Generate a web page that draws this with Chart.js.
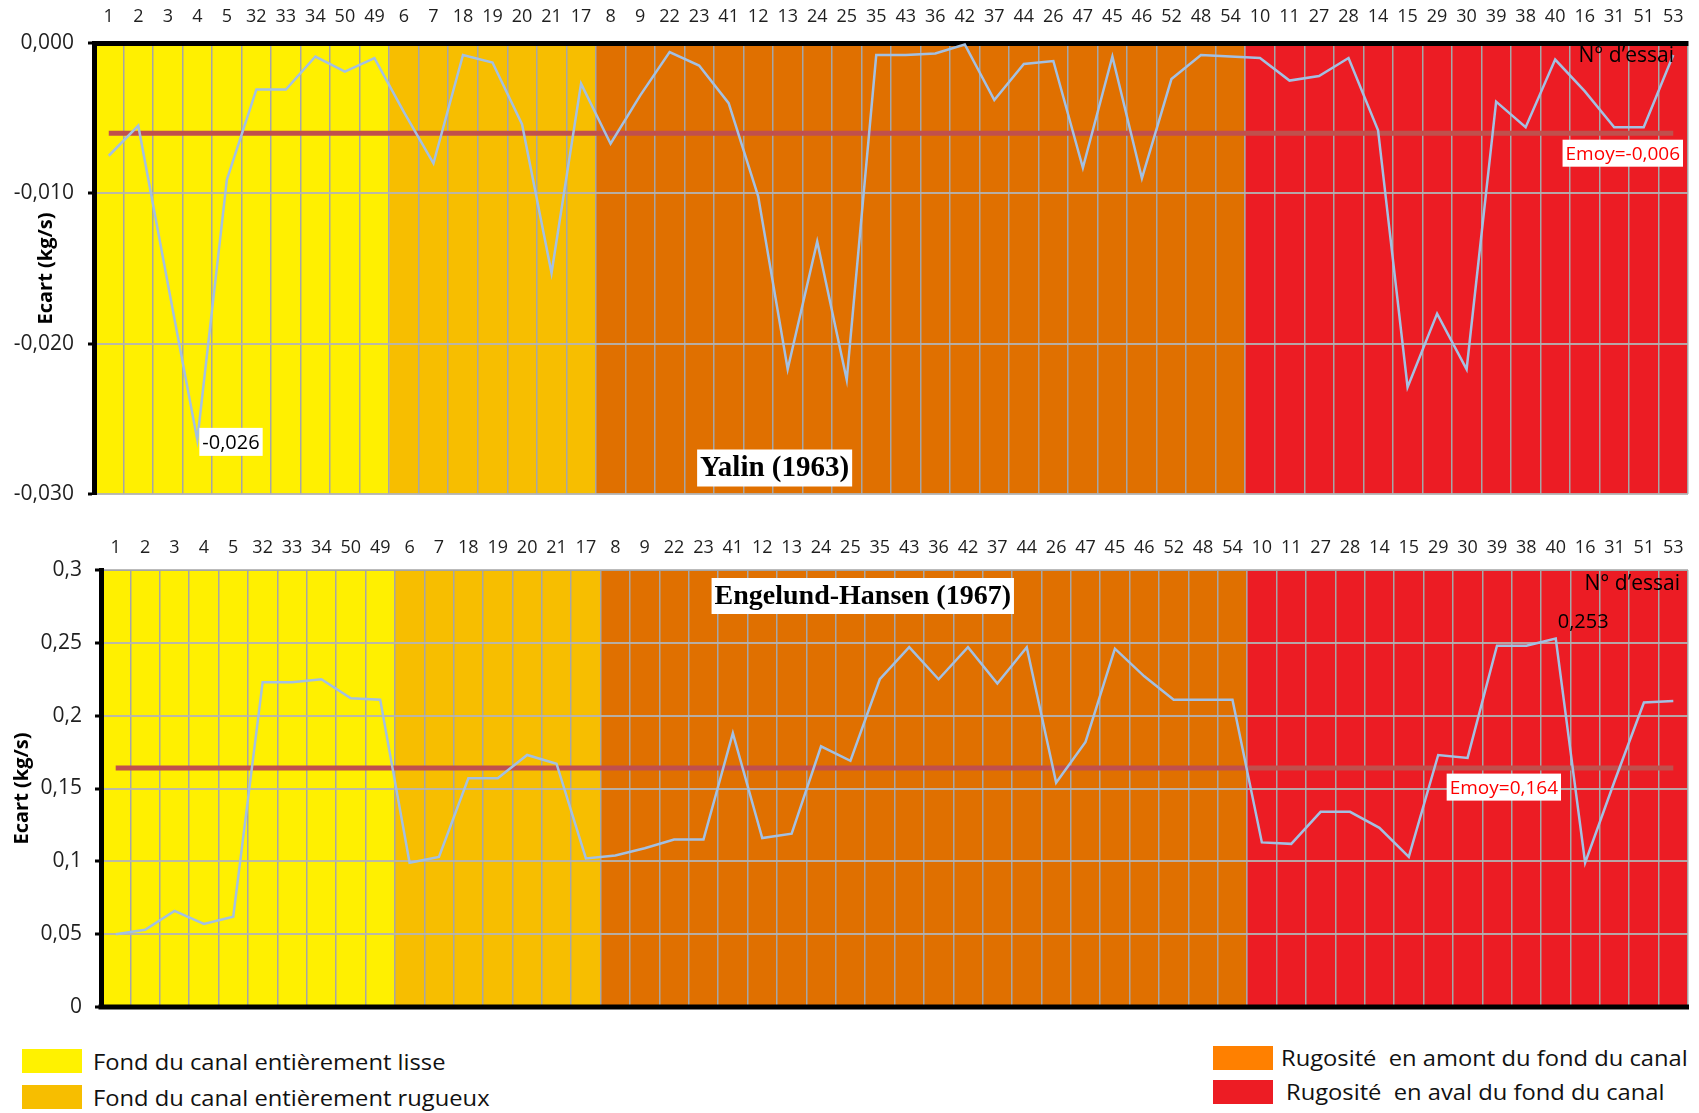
<!DOCTYPE html>
<html>
<head>
<meta charset="utf-8">
<script src="https://cdn.jsdelivr.net/npm/chart.js@4.4.1/dist/chart.umd.min.js"></script>
<style>
  body { margin: 0; background: #fff; font-family: 'Open Sans', sans-serif; }
  #page { position: relative; width: 1699px; height: 1113px; overflow: hidden; }
  canvas { position: absolute; left: 0; }
  .swatch { position: absolute; width: 60px; height: 24px; }
  .legend-text { position: absolute; font-size: 21px; color: #111; white-space: pre; line-height: 24px;
                 transform: scaleX(1.13); transform-origin: left center; }
</style>
</head>
<body>
<div id="page">
  <canvas id="yalinChart" width="1699" height="510" style="top:0"></canvas>
  <canvas id="engelundChart" width="1699" height="500" style="top:520px"></canvas>

  <div class="swatch" style="left:22px;top:1049px;background:#FFF200"></div>
  <div class="legend-text" style="left:93px;top:1050px">Fond du canal entièrement lisse</div>
  <div class="swatch" style="left:22px;top:1085px;background:#F7BE00"></div>
  <div class="legend-text" style="left:93px;top:1086px">Fond du canal entièrement rugueux</div>
  <div class="swatch" style="left:1213px;top:1046px;background:#FF8000"></div>
  <div class="legend-text" style="left:1281px;top:1046px">Rugosité  en amont du fond du canal</div>
  <div class="swatch" style="left:1213px;top:1080px;background:#ED1C24"></div>
  <div class="legend-text" style="left:1286px;top:1080px">Rugosité  en aval du fond du canal</div>
</div>

<script>
// trial numbers, grouped by bed roughness configuration
const smoothTrials = ['1', '2', '3', '4', '5', '32', '33', '34', '50', '49'];
const roughTrials = ['6', '7', '18', '19', '20', '21', '17'];
const upstreamTrials = ['8', '9', '22', '23', '41', '12', '13', '24', '25', '35', '43', '36', '42', '37', '44', '26', '47', '45', '46', '52', '48', '54'];
const downstreamTrials = ['10', '11', '27', '28', '14', '15', '29', '30', '39', '38', '40', '16', '31', '51', '53'];
const trials = smoothTrials.concat(roughTrials, upstreamTrials, downstreamTrials);

// Yalin (1963) - ecart (kg/s)
const yalinSmooth = [-0.0075, -0.0055, -0.0160, -0.0264, -0.0091, -0.0031, -0.0031, -0.0009, -0.0019, -0.0010];
const yalinRough = [-0.0046, -0.0080, -0.0008, -0.0013, -0.0054, -0.0153, -0.0027];
const yalinUpstream = [-0.0067, -0.0035, -0.0006, -0.0015, -0.0040, -0.0102, -0.0217, -0.0132, -0.0224, -0.0008, -0.0008,
                       -0.0007, -0.0001, -0.0038, -0.0014, -0.0012, -0.0083, -0.0009, -0.0090, -0.0024, -0.0008, -0.0009];
const yalinDownstream = [-0.0010, -0.0025, -0.0022, -0.0010, -0.0058, -0.0229, -0.0180, -0.0217, -0.0039, -0.0056,
                         -0.0011, -0.0032, -0.0056, -0.0056, -0.0008];
const yalinMean = -0.006;

// Engelund-Hansen (1967) - ecart (kg/s)
const engelundSmooth = [0.050, 0.053, 0.066, 0.057, 0.062, 0.223, 0.223, 0.225, 0.212, 0.211];
const engelundRough = [0.099, 0.103, 0.157, 0.157, 0.173, 0.167, 0.102];
const engelundUpstream = [0.104, 0.109, 0.115, 0.115, 0.188, 0.116, 0.119, 0.179, 0.169, 0.225, 0.247,
                          0.225, 0.247, 0.222, 0.247, 0.154, 0.182, 0.246, 0.227, 0.211, 0.211, 0.211];
const engelundDownstream = [0.113, 0.112, 0.134, 0.134, 0.123, 0.103, 0.173, 0.171, 0.248, 0.248,
                            0.253, 0.099, 0.155, 0.209, 0.210];
const engelundMean = 0.164;

const yalinValues = yalinSmooth.concat(yalinRough, yalinUpstream, yalinDownstream);
const engelundValues = engelundSmooth.concat(engelundRough, engelundUpstream, engelundDownstream);

const groupSizes = [smoothTrials.length, roughTrials.length, upstreamTrials.length, downstreamTrials.length];
const bandColors = ['#FFF000', '#F7BE00', '#E07000', '#EC1C24'];

Chart.defaults.font.family = "'Open Sans', sans-serif";
Chart.defaults.color = '#1f1f1f';

// coloured background bands, one per group of trials
const bandPlugin = {
    id: 'bands',
    beforeDraw(chart) {
        const ctx = chart.ctx;
        const area = chart.chartArea;
        const x = chart.scales.x;
        const half = x.width / trials.length / 2;
        let start = 0;
        ctx.save();
        groupSizes.forEach((n, i) => {
            const left = x.getPixelForValue(start) - half;
            const right = x.getPixelForValue(start + n - 1) + half;
            ctx.fillStyle = bandColors[i];
            ctx.fillRect(left, area.top, right - left, area.height);
            start += n;
        });
        ctx.restore();
    }
};

function drawBox(ctx, text, x, y, font, color, align) {
    ctx.font = font;
    const w = ctx.measureText(text).width;
    const h = parseInt(font.match(/(\d+)px/)[1]) + 8;
    let left = x;
    if (align === 'center') left = x - w / 2 - 3;
    if (align === 'right') left = x - w - 6;
    ctx.fillStyle = '#fff';
    ctx.fillRect(left, y - h / 2, w + 6, h);
    ctx.fillStyle = color;
    ctx.textAlign = 'left';
    ctx.textBaseline = 'middle';
    ctx.fillText(text, left + 3, y + 1);
}

function drawText(ctx, text, x, y, font, color, align) {
    ctx.font = font;
    ctx.fillStyle = color;
    ctx.textAlign = align;
    ctx.textBaseline = 'middle';
    ctx.fillText(text, x, y);
}

function formatYalin(v) {
    if (Math.abs(v) < 1e-9) return '0,000';
    return v.toFixed(3).replace('.', ',');
}

function formatEngelund(v) {
    return String(+v.toFixed(2)).replace('.', ',');
}

function baseDatasets(values, mean) {
    return [{
        data: values,
        borderColor: '#A3C0E2',
        borderWidth: 2.5,
        pointRadius: 0,
        tension: 0
    }, {
        data: [{x: trials[0], y: mean}, {x: trials[trials.length - 1], y: mean}],
        borderColor: '#C0504D',
        borderWidth: 5,
        pointRadius: 0
    }];
}

function xAxis(height, padding) {
    return {
        type: 'category',
        position: 'top',
        offset: true,
        grid: { offset: true, color: '#A6A6A6', lineWidth: 1.5, drawTicks: false },
        ticks: { autoSkip: false, maxRotation: 0, minRotation: 0, padding: padding, font: { size: 18 } },
        afterFit(scale) { scale.height = height; }
    };
}

function yAxis(width, titlePad) {
    return {
        grid: { color: 'rgba(180, 180, 180, 0.9)', lineWidth: 2, tickLength: 6, tickColor: '#000', tickWidth: 3 },
        border: { color: '#000', width: 5 },
        title: {
            display: true, text: 'Ecart (kg/s)', color: '#000',
            font: { size: 20, weight: 'bold' }, padding: { top: titlePad, bottom: 0 }
        },
        afterFit(scale) {
            // fixed axis width, and no extra room asked for the end labels
            scale.width = width;
            scale.paddingTop = 0;
            scale.paddingBottom = 0;
        }
    };
}

// Yalin (1963)
const yalinNotes = {
    id: 'yalinNotes',
    afterDraw(chart) {
        const ctx = chart.ctx;
        const area = chart.chartArea;
        const y = chart.scales.y;
        const low = chart.getDatasetMeta(0).data[3];
        ctx.save();
        drawBox(ctx, '-0,026', low.x + 2, low.y + 2, '20px "Open Sans"', '#000', 'left');
        drawBox(ctx, 'Yalin (1963)', area.left + area.width * 0.427, area.bottom - 26,
            'bold 29px "Liberation Serif"', '#000', 'center');
        const my = y.getPixelForValue(yalinMean);
        drawBox(ctx, 'Emoy=-0,006', area.right - 5, my + 20, '19px "Open Sans"', '#FF0000', 'right');
        drawText(ctx, 'N° d’essai', area.right - 14, area.top + 13, '21px "Open Sans"', '#000', 'right');
        ctx.restore();
    }
};

const yalinX = xAxis(43, 15);
yalinX.border = { color: '#000', width: 5 };
const yalinY = yAxis(94, 34);
yalinY.min = -0.03;
yalinY.max = 0;
yalinY.ticks = { stepSize: 0.01, callback: formatYalin, padding: 14, font: { size: 21 } };

new Chart(document.getElementById('yalinChart'), {
    type: 'line',
    data: { labels: trials, datasets: baseDatasets(yalinValues, yalinMean) },
    options: {
        responsive: false,
        animation: false,
        layout: { padding: { left: 0, right: 11, top: 0, bottom: 16 } },
        plugins: { legend: { display: false }, tooltip: { enabled: false } },
        scales: { x: yalinX, y: yalinY }
    },
    plugins: [bandPlugin, yalinNotes]
});

// Engelund-Hansen (1967)
const engelundNotes = {
    id: 'engelundNotes',
    beforeDatasetsDraw(chart) {
        // black baseline at 0
        const ctx = chart.ctx;
        const area = chart.chartArea;
        ctx.save();
        ctx.strokeStyle = '#000';
        ctx.lineWidth = 5;
        ctx.beginPath();
        ctx.moveTo(area.left - 2.5, area.bottom);
        ctx.lineTo(area.right + 1, area.bottom);
        ctx.stroke();
        ctx.restore();
    },
    afterDraw(chart) {
        const ctx = chart.ctx;
        const area = chart.chartArea;
        const y = chart.scales.y;
        const peak = chart.getDatasetMeta(0).data[trials.indexOf('40')];
        ctx.save();
        drawBox(ctx, 'Engelund-Hansen (1967)', area.left + area.width * 0.48, area.top + 26,
            'bold 28px "Liberation Serif"', '#000', 'center');
        drawText(ctx, 'N° d’essai', area.right - 8, area.top + 14, '21px "Open Sans"', '#000', 'right');
        drawText(ctx, '0,253', peak.x + 2, peak.y - 16, '20px "Open Sans"', '#000', 'left');
        const my = y.getPixelForValue(engelundMean);
        drawBox(ctx, 'Emoy=0,164', area.right - 127, my + 19, '19px "Open Sans"', '#FF0000', 'right');
        ctx.restore();
    }
};

const engelundX = xAxis(50, 11);
engelundX.border = { color: '#A6A6A6', width: 1 };
const engelundY = yAxis(101, 10);
engelundY.min = 0;
engelundY.max = 0.3;
engelundY.ticks = { stepSize: 0.05, callback: formatEngelund, padding: 13, font: { size: 21 } };

new Chart(document.getElementById('engelundChart'), {
    type: 'line',
    data: { labels: trials, datasets: baseDatasets(engelundValues, engelundMean) },
    options: {
        responsive: false,
        animation: false,
        layout: { padding: { left: 0, right: 11, top: 0, bottom: 13 } },
        plugins: { legend: { display: false }, tooltip: { enabled: false } },
        scales: { x: engelundX, y: engelundY }
    },
    plugins: [bandPlugin, engelundNotes]
});
</script>
</body>
</html>
